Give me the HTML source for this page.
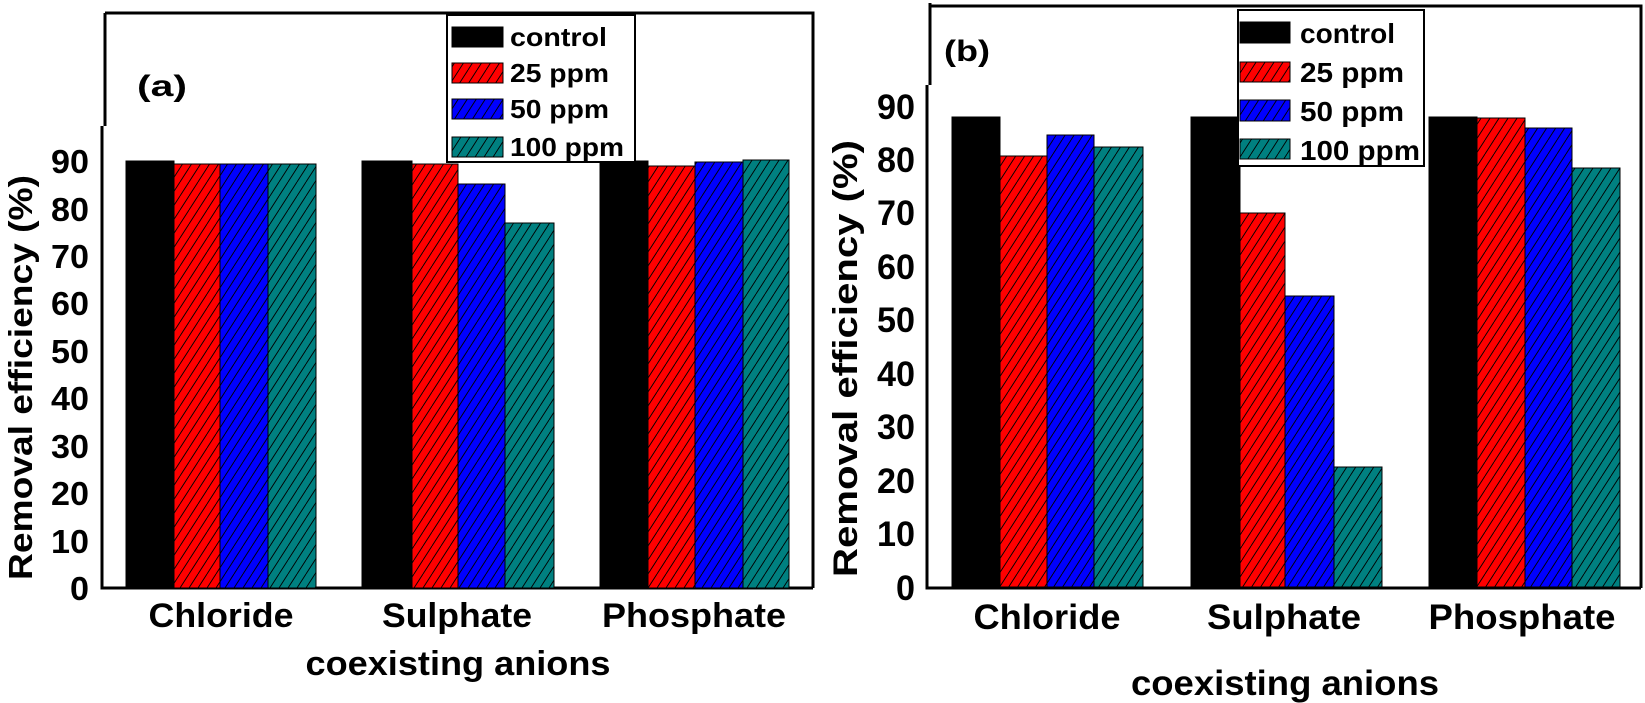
<!DOCTYPE html>
<html><head><meta charset="utf-8"><style>
html,body{margin:0;padding:0;background:#fff;}
svg{display:block;}
text{font-family:"Liberation Sans",Arial,sans-serif;font-weight:bold;fill:#000;}
</style></head><body>
<svg width="1645" height="703" viewBox="0 0 1645 703" xmlns="http://www.w3.org/2000/svg">
<defs>
<pattern id="hr" patternUnits="userSpaceOnUse" width="9" height="14"><rect width="9" height="14" fill="#ff0000"/><path d="M0,14 L9,0 M-9,14 L0,0 M9,14 L18,0" stroke="#000" stroke-width="0.9"/></pattern>
<pattern id="hb" patternUnits="userSpaceOnUse" width="9" height="14"><rect width="9" height="14" fill="#0000ff"/><path d="M0,14 L9,0 M-9,14 L0,0 M9,14 L18,0" stroke="#000" stroke-width="0.9"/></pattern>
<pattern id="ht" patternUnits="userSpaceOnUse" width="9" height="14"><rect width="9" height="14" fill="#008080"/><path d="M0,14 L9,0 M-9,14 L0,0 M9,14 L18,0" stroke="#000" stroke-width="0.9"/></pattern>
</defs>

<g stroke="#000" stroke-width="3" fill="none">
<path d="M105,13 L813,13 L813,588"/>
<path d="M105,13 L105,126"/>
<path d="M102,126 L102,588 L813,588"/>
</g>

<g stroke="#000" stroke-width="1">
<rect x="126" y="161" width="48" height="427" fill="#000"/>
<rect x="174" y="164" width="46" height="424" fill="url(#hr)"/>
<rect x="220" y="164" width="48" height="424" fill="url(#hb)"/>
<rect x="268" y="164" width="48" height="424" fill="url(#ht)"/>
<rect x="362" y="161" width="50" height="427" fill="#000"/>
<rect x="412" y="164" width="46" height="424" fill="url(#hr)"/>
<rect x="458" y="184" width="47" height="404" fill="url(#hb)"/>
<rect x="505" y="223" width="49" height="365" fill="url(#ht)"/>
<rect x="600" y="161" width="48" height="427" fill="#000"/>
<rect x="648" y="166" width="47" height="422" fill="url(#hr)"/>
<rect x="695" y="162" width="48" height="426" fill="url(#hb)"/>
<rect x="743" y="160" width="46" height="428" fill="url(#ht)"/>
</g>

<rect x="447" y="15" width="188" height="147" fill="#fff" stroke="#000" stroke-width="2"/>
<rect x="452" y="27" width="51" height="20" fill="#000" stroke="#000"/>
<rect x="452" y="63" width="51" height="20" fill="url(#hr)" stroke="#000"/>
<rect x="452" y="99" width="51" height="20" fill="url(#hb)" stroke="#000"/>
<rect x="452" y="137" width="51" height="20" fill="url(#ht)" stroke="#000"/>
<g font-size="26" lengthAdjust="spacingAndGlyphs">
<text x="510" y="46" textLength="97" lengthAdjust="spacingAndGlyphs">control</text>
<text x="510" y="82" textLength="99" lengthAdjust="spacingAndGlyphs">25 ppm</text>
<text x="510" y="118" textLength="99" lengthAdjust="spacingAndGlyphs">50 ppm</text>
<text x="510" y="156" textLength="114" lengthAdjust="spacingAndGlyphs">100 ppm</text>
</g>

<text x="137" y="96" font-size="30" textLength="50" lengthAdjust="spacingAndGlyphs">(a)</text>

<g font-size="33" text-anchor="end">
<text x="89" y="600" textLength="19" lengthAdjust="spacingAndGlyphs">0</text>
<text x="89" y="553" textLength="38" lengthAdjust="spacingAndGlyphs">10</text>
<text x="89" y="505" textLength="38" lengthAdjust="spacingAndGlyphs">20</text>
<text x="89" y="458" textLength="38" lengthAdjust="spacingAndGlyphs">30</text>
<text x="89" y="410" textLength="38" lengthAdjust="spacingAndGlyphs">40</text>
<text x="89" y="363" textLength="38" lengthAdjust="spacingAndGlyphs">50</text>
<text x="89" y="315" textLength="38" lengthAdjust="spacingAndGlyphs">60</text>
<text x="89" y="268" textLength="38" lengthAdjust="spacingAndGlyphs">70</text>
<text x="89" y="221" textLength="38" lengthAdjust="spacingAndGlyphs">80</text>
<text x="89" y="173" textLength="38" lengthAdjust="spacingAndGlyphs">90</text>
</g>
<text transform="translate(32,580) rotate(-90)" font-size="33" textLength="405" lengthAdjust="spacingAndGlyphs">Removal efficiency (%)</text>

<g font-size="34" text-anchor="middle">
<text x="221" y="627" textLength="145" lengthAdjust="spacingAndGlyphs">Chloride</text>
<text x="457" y="627" textLength="150" lengthAdjust="spacingAndGlyphs">Sulphate</text>
<text x="694" y="627" textLength="184" lengthAdjust="spacingAndGlyphs">Phosphate</text>
<text x="458" y="675" textLength="305" lengthAdjust="spacingAndGlyphs">coexisting anions</text>
</g>

<g stroke="#000" stroke-width="3" fill="none">
<path d="M930,3 L930,85"/>
<path d="M930,6 L1641,6 L1641,588"/>
<path d="M927,85 L927,588 L1641,588"/>
</g>

<g stroke="#000" stroke-width="1">
<rect x="952" y="117" width="48" height="470" fill="#000"/>
<rect x="1000" y="156" width="47" height="431" fill="url(#hr)"/>
<rect x="1047" y="135" width="47" height="452" fill="url(#hb)"/>
<rect x="1094" y="147" width="49" height="440" fill="url(#ht)"/>
<rect x="1191" y="117" width="49" height="470" fill="#000"/>
<rect x="1240" y="213" width="45" height="374" fill="url(#hr)"/>
<rect x="1285" y="296" width="49" height="291" fill="url(#hb)"/>
<rect x="1334" y="467" width="48" height="120" fill="url(#ht)"/>
<rect x="1429" y="117" width="48" height="470" fill="#000"/>
<rect x="1477" y="118" width="48" height="469" fill="url(#hr)"/>
<rect x="1525" y="128" width="47" height="459" fill="url(#hb)"/>
<rect x="1572" y="168" width="48" height="419" fill="url(#ht)"/>
</g>

<rect x="1238" y="10" width="186" height="156" fill="#fff" stroke="#000" stroke-width="2"/>
<rect x="1240" y="22" width="50" height="21" fill="#000" stroke="#000"/>
<rect x="1240" y="62" width="50" height="20" fill="url(#hr)" stroke="#000"/>
<rect x="1240" y="100" width="50" height="21" fill="url(#hb)" stroke="#000"/>
<rect x="1240" y="139" width="50" height="20" fill="url(#ht)" stroke="#000"/>
<g font-size="28">
<text x="1300" y="43" textLength="95" lengthAdjust="spacingAndGlyphs">control</text>
<text x="1300" y="82" textLength="104" lengthAdjust="spacingAndGlyphs">25 ppm</text>
<text x="1300" y="121" textLength="104" lengthAdjust="spacingAndGlyphs">50 ppm</text>
<text x="1300" y="160" textLength="120" lengthAdjust="spacingAndGlyphs">100 ppm</text>
</g>

<text x="944" y="61" font-size="30" textLength="46" lengthAdjust="spacingAndGlyphs">(b)</text>

<g font-size="35" text-anchor="end">
<text x="915" y="600" textLength="19" lengthAdjust="spacingAndGlyphs">0</text>
<text x="915" y="546" textLength="38" lengthAdjust="spacingAndGlyphs">10</text>
<text x="915" y="493" textLength="38" lengthAdjust="spacingAndGlyphs">20</text>
<text x="915" y="439" textLength="38" lengthAdjust="spacingAndGlyphs">30</text>
<text x="915" y="386" textLength="38" lengthAdjust="spacingAndGlyphs">40</text>
<text x="915" y="332" textLength="38" lengthAdjust="spacingAndGlyphs">50</text>
<text x="915" y="279" textLength="38" lengthAdjust="spacingAndGlyphs">60</text>
<text x="915" y="225" textLength="38" lengthAdjust="spacingAndGlyphs">70</text>
<text x="915" y="172" textLength="38" lengthAdjust="spacingAndGlyphs">80</text>
<text x="915" y="119" textLength="38" lengthAdjust="spacingAndGlyphs">90</text>
</g>
<text transform="translate(857,577) rotate(-90)" font-size="34" textLength="437" lengthAdjust="spacingAndGlyphs">Removal efficiency (%)</text>

<g font-size="35" text-anchor="middle">
<text x="1047" y="629" textLength="147" lengthAdjust="spacingAndGlyphs">Chloride</text>
<text x="1284" y="629" textLength="154" lengthAdjust="spacingAndGlyphs">Sulphate</text>
<text x="1522" y="629" textLength="187" lengthAdjust="spacingAndGlyphs">Phosphate</text>
<text x="1285" y="695" textLength="308" lengthAdjust="spacingAndGlyphs">coexisting anions</text>
</g>
</svg>
</body></html>
